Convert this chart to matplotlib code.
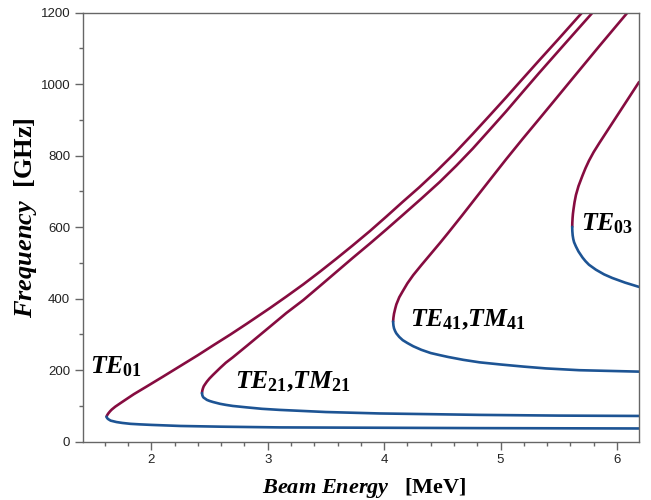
import matplotlib
matplotlib.use("Agg")
import matplotlib.pyplot as plt
from matplotlib.ticker import MultipleLocator

plt.rcParams['mathtext.fontset'] = 'custom'
plt.rcParams['mathtext.it'] = 'Liberation Serif:bold:italic'
plt.rcParams['mathtext.rm'] = 'Liberation Serif:bold'
plt.rcParams['mathtext.bf'] = 'Liberation Serif:bold'

# beam energy (MeV) vs frequency (GHz), upper and lower branch per mode
te01_up_e = [1.615, 1.62, 1.63, 1.645, 1.66, 1.69, 1.735, 1.79, 1.85, 1.963, 2.1, 2.25, 2.4, 2.534, 2.68,
             2.82, 3.02, 3.16, 3.305, 3.45, 3.59, 3.73, 3.877, 4.02, 4.16, 4.3, 4.448, 4.6, 4.762, 4.9,
             5.048, 5.19, 5.333, 5.5, 5.70]
te01_up_f = [70, 74, 79, 85, 90, 98, 108, 120, 133, 155, 182, 212, 242, 270, 300,
             330, 374, 406, 440, 476, 512, 549, 589, 630, 671, 711, 756, 805, 861, 910,
             963, 1015, 1067, 1127, 1200]
te01_lo_e = [1.615, 1.62, 1.63, 1.65, 1.70, 1.75, 1.82, 1.9, 2.0, 2.25, 2.6, 3.1, 3.96, 4.82, 5.5, 6.19]
te01_lo_f = [70, 66, 63, 59, 55, 52.5, 50, 48.5, 47, 44, 42, 40, 39, 38, 37.5, 37]

te21_up_e = [2.435, 2.438, 2.443, 2.45, 2.46, 2.477, 2.50, 2.53, 2.59, 2.64, 2.70, 2.76, 2.82, 2.92,
             3.02, 3.16, 3.305, 3.45, 3.59, 3.73, 3.877, 4.02, 4.16, 4.32, 4.476, 4.62, 4.762, 4.9,
             5.048, 5.19, 5.333, 5.55, 5.79]
te21_up_f = [136, 143, 149, 155, 160, 168, 177, 187, 206, 221, 236, 252, 268, 295,
             322, 360, 396, 436, 475, 514, 554, 594, 634, 680, 726, 772, 820, 870,
             924, 978, 1032, 1112, 1200]
te21_lo_e = [2.435, 2.438, 2.443, 2.45, 2.46, 2.477, 2.50, 2.53, 2.59, 2.64, 2.70, 2.82, 2.95, 3.1,
             3.3, 3.5, 3.73, 3.96, 4.4, 4.82, 5.5, 6.19]
te21_lo_f = [136, 130, 126, 123, 121, 117, 114, 111, 106, 103, 100, 96, 92, 89,
             86, 83, 81, 79, 77, 75, 73, 72]

te41_up_e = [4.077, 4.08, 4.085, 4.095, 4.105, 4.13, 4.16, 4.2, 4.25, 4.32, 4.40, 4.48, 4.55, 4.67,
             4.79, 4.92, 5.048, 5.19, 5.333, 5.48, 5.619, 5.85, 6.09]
te41_up_f = [336, 347, 358, 372, 384, 404, 421, 443, 466, 494, 525, 556, 584, 633,
             683, 737, 790, 847, 903, 961, 1016, 1107, 1200]
te41_lo_e = [4.077, 4.08, 4.085, 4.095, 4.105, 4.13, 4.16, 4.2, 4.25, 4.32, 4.40, 4.48, 4.55, 4.68,
             4.82, 5.0, 5.2, 5.39, 5.676, 6.19]
te41_lo_f = [336, 325, 317, 309, 303, 293, 284, 276, 267, 257, 248, 242, 237, 229,
             222, 216, 210, 205, 200, 196]

te03_up_e = [5.616, 5.617, 5.619, 5.622, 5.627, 5.636, 5.648, 5.67, 5.705, 5.73, 5.76, 5.80, 5.85,
             5.92, 5.99, 6.09, 6.19]
te03_up_f = [601, 613, 625, 637, 650, 670, 690, 715, 745, 765, 786, 810, 836,
             871, 906, 956, 1006]
te03_lo_e = [5.616, 5.617, 5.62, 5.625, 5.632, 5.648, 5.67, 5.705, 5.73, 5.76, 5.82, 5.89, 5.96,
             6.07, 6.19]
te03_lo_f = [601, 589, 577, 567, 558, 546, 532, 515, 505, 495, 481, 468, 458,
             445, 433]

upper = [(te01_up_e, te01_up_f), (te21_up_e, te21_up_f), (te41_up_e, te41_up_f), (te03_up_e, te03_up_f)]
lower = [(te01_lo_e, te01_lo_f), (te21_lo_e, te21_lo_f), (te41_lo_e, te41_lo_f), (te03_lo_e, te03_lo_f)]

labels = [r'$TE_{01}$', r'$TE_{21}{,}TM_{21}$', r'$TE_{41}{,}TM_{41}$', r'$TE_{03}$']
label_e = [1.47, 2.72, 4.22, 5.69]
label_f = [190, 150, 322, 590]

red = '#860c40'
blue = '#1d5494'
grey = '#666666'

fig = plt.figure(figsize=(6.51, 5.0), dpi=100)
ax = fig.add_axes([0.127, 0.1166, 0.8546, 0.858])

for e, f in upper:
    ax.plot(e, f, color=red, lw=1.9, solid_joinstyle='round', solid_capstyle='round')
for e, f in lower:
    ax.plot(e, f, color=blue, lw=1.9, solid_joinstyle='round', solid_capstyle='round')

for txt, x, y in zip(labels, label_e, label_f):
    ax.text(x, y, txt, fontsize=18.5, ha='left', va='baseline', color='black')

ax.set_xlim(1.41, 6.19)
ax.set_ylim(0, 1200)
ax.xaxis.set_major_locator(MultipleLocator(1))
ax.xaxis.set_minor_locator(MultipleLocator(0.2))
ax.yaxis.set_major_locator(MultipleLocator(200))
ax.yaxis.set_minor_locator(MultipleLocator(100))

for s in ax.spines.values():
    s.set_color(grey)
    s.set_linewidth(1.0)
ax.tick_params(which='both', direction='out', color=grey, width=1, top=False, right=False)
ax.tick_params(which='major', length=6, pad=3, labelsize=9.5, labelcolor='#222222')
ax.tick_params(which='minor', length=3)
for lab in ax.get_xticklabels() + ax.get_yticklabels():
    lab.set_family('Liberation Sans')

fig.text(364 / 651, 1 - 493 / 500, r'$Beam\ Energy$   [MeV]', fontsize=16,
         family='Liberation Serif', weight='bold', ha='center', va='baseline')
fig.text(26 / 651, 1 - 218 / 500, r'$Frequency$  [GHz]', fontsize=19,
         family='Liberation Serif', weight='bold', ha='center', va='center', rotation=90)

fig.savefig('out.png', dpi=100)
